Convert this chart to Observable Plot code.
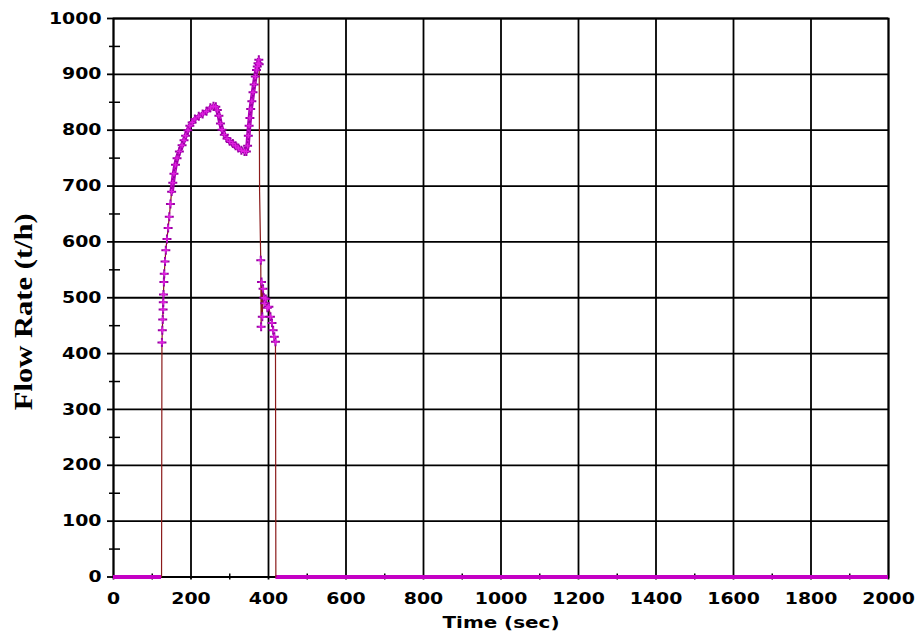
<!DOCTYPE html>
<html><head><meta charset="utf-8">
<script src="https://cdn.jsdelivr.net/npm/d3@7"></script>
<script src="https://cdn.jsdelivr.net/npm/@observablehq/plot@0.6"></script>
<style>body{margin:0;background:#fff}</style>
</head><body><div id="chart"></div>
<script>
// Time (sec) and Flow Rate (t/h)
const time = [124,125,126,127,128,128.5,129,130,131,133,135,138,141,144,147,150,153,156,160,164,170,177,182,186,192,197,203,210,220,230,240,250,258,264,268,272,276,280,286,293,300,308,315,322,330,338,343,346,348,350,352,354,357,360,363,366,369,371,373,375,376,377,380,381,382,384,386,388,390,393,397,401,405,409,412,415,418,419];
const flow = [0,420,442,461,479,492,506,528,543,565,585,605,625,645,668,690,706,722,738,750,762,773,782,790,800,808,814,820,825,829,834,840,843,842,836,826,812,801,792,785,780,776,772,768,764,762,762,772,790,808,822,838,852,868,882,896,908,914,920,926,918,690,567,448,528,466,516,500,490,498,482,484,466,455,442,430,421,0];
const zeroFrom = [0, 419];
const zeroTo = [124, 2000];
const xTicks = [0,200,400,600,800,1000,1200,1400,1600,1800,2000];
const xMinor = [100,300,500,700,900,1100,1300,1500,1700,1900];
const yTicks = [0,100,200,300,400,500,600,700,800,900,1000];
const yMinor = [50,150,250,350,450,550,650,750,850,950];
const xTitle = "Time (sec)";
const yTitle = "Flow Rate (t/h)";

const pts = time.map((t,i)=>({t, v: flow[i]}));
const marked = pts.filter(d=>d.v>0 && !(d.t===377));
const band = pts.filter(d=>d.t>=150 && d.t<=376);
const zeroSegs = zeroFrom.map((a,i)=>({a, b: zeroTo[i]}));
const tickFont = {fontFamily:"DejaVu Sans", fontWeight:"bold", fontSize:16};

const chart = Plot.plot({
  width: 920, height: 637,
  marginLeft: 113, marginRight: 32, marginTop: 18, marginBottom: 60.5,
  style: {background:"#fff", color:"#000", fontFamily:"DejaVu Sans"},
  x: {domain:[0,2000]},
  y: {domain:[0,1000]},
  marks: [
    Plot.gridX(xTicks, {stroke:"#000", strokeOpacity:1, strokeWidth:1.8}),
    Plot.gridY(yTicks, {stroke:"#000", strokeOpacity:1, strokeWidth:1.8}),
    Plot.frame({stroke:"#000", strokeWidth:1.8}),
    Plot.ruleY(yMinor, {y: d=>d, x1: 0, x2: 0, insetLeft:-4, insetRight:-7, stroke:"#000", strokeWidth:1.5}),
    Plot.ruleX(xMinor, {x: d=>d, y1: 0, y2: 0, insetTop:-3, insetBottom:-3, stroke:"#000", strokeWidth:1.5}),
    Plot.axisY(yTicks, {tickSize:6, tickPadding:6, label:null, strokeWidth:1.8, tickFormat:d=>String(d), ...tickFont}),
    Plot.axisX(xTicks, {tickSize:3, tickPadding:13, label:null, strokeWidth:1.8, tickFormat:d=>String(d), ...tickFont}),
    Plot.ruleY(zeroSegs, {y: 0, x1:"a", x2:"b", stroke:"#c400c4", strokeWidth:4}),
    Plot.line(pts, {x:"t", y:"v", stroke:"#8b1a1a", strokeWidth:1.2}),
    Plot.line(band, {x:"t", y:"v", stroke:"#b000b8", strokeWidth:4.5}),
    Plot.line(band, {x:"t", y:"v", stroke:"#e020e0", strokeWidth:2}),
    Plot.dot(marked, {x:"t", y:"v", symbol:"plus", r:3, stroke:"#9a00a4", strokeWidth:2}),
    Plot.dot(marked, {x:"t", y:"v", symbol:"plus", r:1.8, stroke:"#e020e0", strokeWidth:1.4}),
    Plot.text([xTitle], {text:d=>d, frameAnchor:"bottom", textAnchor:"middle", dy:51, ...tickFont}),
    Plot.text([yTitle], {text:d=>d, frameAnchor:"left", textAnchor:"middle", dx:-90, dy:14, rotate:-90,
      fontFamily:"Liberation Serif", fontWeight:"bold", fontSize:25})
  ]
});
document.getElementById("chart").appendChild(chart);

const ticksSet = new Set([...xTicks, ...yTicks].map(String));
chart.querySelectorAll('text').forEach(t=>{
  const s = t.textContent;
  let target = null;
  if (s === xTitle) target = 117;
  else if (s === yTitle) target = 197;
  else if (ticksSet.has(s)) target = t.getComputedTextLength()*1.18;
  if (target) {
    t.setAttribute("textLength", target.toFixed(1));
    t.setAttribute("lengthAdjust","spacingAndGlyphs");
  }
});
</script>
</body></html>
